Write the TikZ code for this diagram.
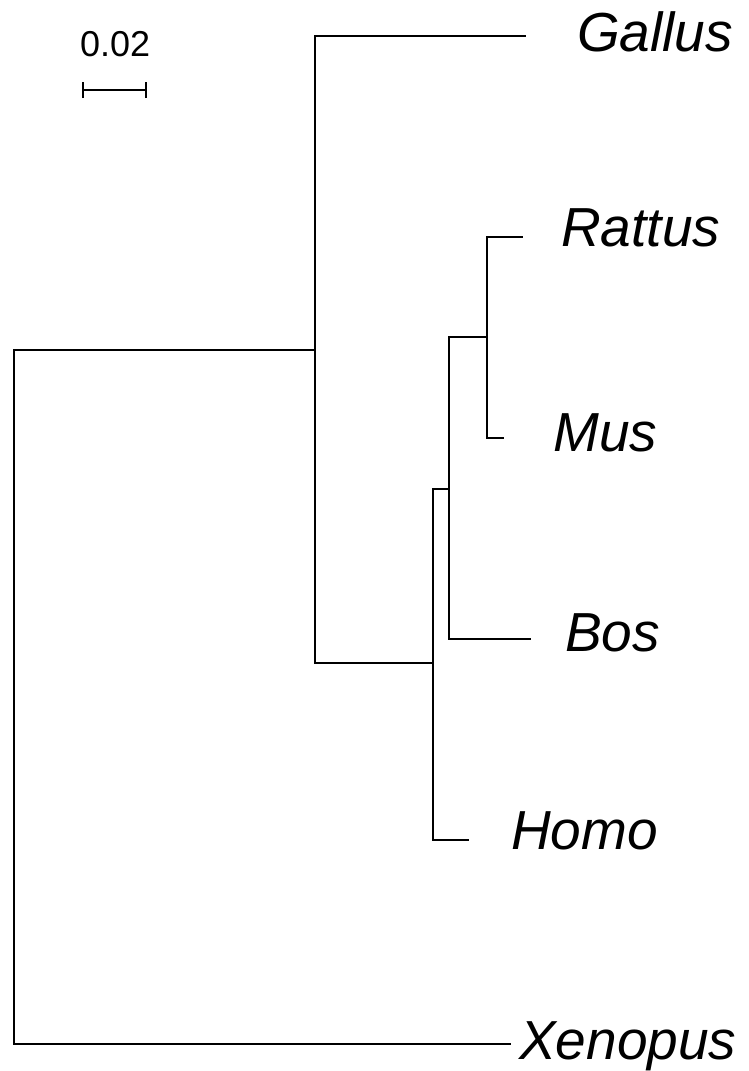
\documentclass[tikz,border=0pt]{standalone}
\usepackage{fontspec}
\setmainfont{Liberation Sans}
\begin{document}
\begin{tikzpicture}[x=1pt,y=-1pt,
  branch/.style={line width=1.1pt,line cap=rect},
  taxon/.style={anchor=base west,inner sep=0pt,font=\fontsize{55}{62}\selectfont\itshape},
  scalelab/.style={anchor=base west,inner sep=0pt,font=\fontsize{36}{42}\selectfont}]
\useasboundingbox (0,0) rectangle (748,1071);
% internal nodes
\coordinate (R) at (14,697);
\coordinate (A) at (315,350);
\coordinate (B) at (433,663);
\coordinate (C) at (449,489);
\coordinate (D) at (487,337);
% tips
\coordinate (tG) at (525,36);
\coordinate (tR) at (522,237);
\coordinate (tM) at (503,438);
\coordinate (tB) at (530,639);
\coordinate (tH) at (468,840);
\coordinate (tX) at (510,1044);
% labels
\node[taxon] (lG) at (577,51) {Gallus};
\node[taxon] (lR) at (561,246) {Rattus};
\node[taxon] (lM) at (553,451) {Mus};
\node[taxon] (lB) at (565,651) {Bos};
\node[taxon] (lH) at (511,849) {Homo};
\node[taxon] (lX) at (519,1059) {Xenopus};
% branches
\draw[branch] (A) -| (R) |- (tX);
\draw[branch] (tG) -| (A) |- (B);
\draw[branch] (C) -| (B) |- (tH);
\draw[branch] (D) -| (C) |- (tB);
\draw[branch] (tR) -| (D) |- (tM);
% scale bar
\coordinate (s1) at (83,90);
\coordinate (s2) at (146,90);
\draw[branch,line cap=butt] (s1) -- (s2);
\draw[branch,line cap=butt] ([yshift=-8pt]s1) -- ([yshift=8pt]s1);
\draw[branch,line cap=butt] ([yshift=-8pt]s2) -- ([yshift=8pt]s2);
\node[scalelab] (sl) at (80,56) {0.02};
\end{tikzpicture}
\end{document}
